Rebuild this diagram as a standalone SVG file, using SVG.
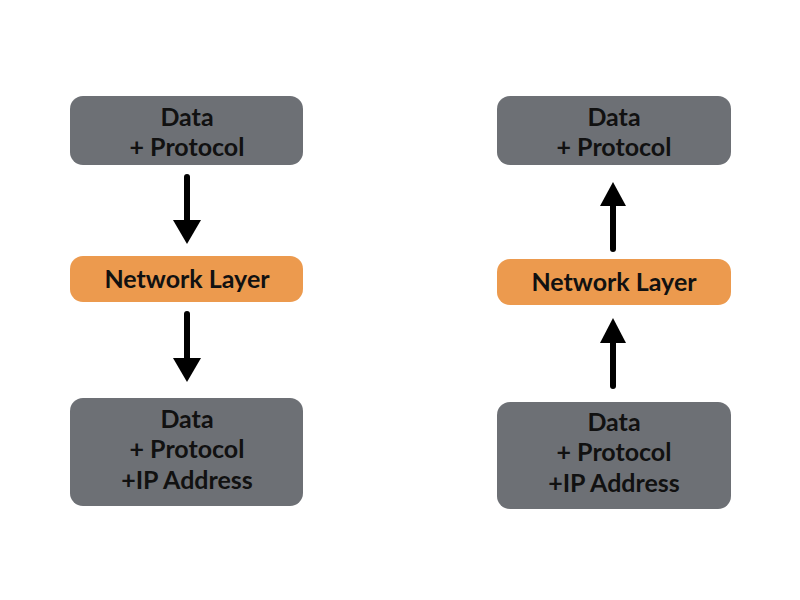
<svg xmlns="http://www.w3.org/2000/svg" width="800" height="600" viewBox="0 0 800 600">
<style>
.g{fill:#6d7075}
.o{fill:#ec9a4e}
.t{font-family:Lato,"Liberation Sans",sans-serif;font-weight:bold;font-size:25px;fill:#111;text-anchor:middle}
.c line{stroke:#000;stroke-width:6;stroke-linecap:round}
.c polygon{fill:#000}
</style>
<rect width="800" height="600" fill="#fff"/>
<g id="left-top"><rect class="g" x="70" y="96" width="233" height="69" rx="13"/><text class="t" x="187" y="126">Data</text><text class="t" x="187" y="156">+ Protocol</text></g>
<g id="left-network"><rect class="o" x="70" y="256" width="233" height="46" rx="13"/><text class="t" x="187" y="288">Network Layer</text></g>
<g id="left-bottom"><rect class="g" x="70" y="398" width="233" height="108" rx="13"/><text class="t" x="187" y="428">Data</text><text class="t" x="187" y="458">+ Protocol</text><text class="t" x="187" y="489">+IP Address</text></g>
<g id="right-top"><rect class="g" x="497" y="96" width="234" height="69" rx="13"/><text class="t" x="614" y="126">Data</text><text class="t" x="614" y="156">+ Protocol</text></g>
<g id="right-network"><rect class="o" x="497" y="259" width="234" height="46" rx="13"/><text class="t" x="614" y="291">Network Layer</text></g>
<g id="right-bottom"><rect class="g" x="497" y="402" width="234" height="107" rx="13"/><text class="t" x="614" y="431">Data</text><text class="t" x="614" y="461">+ Protocol</text><text class="t" x="614" y="492">+IP Address</text></g>
<g id="connectors" class="c">
<line x1="187" y1="177" x2="187" y2="222"/><polygon points="173,220 201,220 187,244"/>
<line x1="187" y1="314" x2="187" y2="360"/><polygon points="173,358 201,358 187,382"/>
<line x1="613" y1="249" x2="613" y2="203"/><polygon points="600,206 626,206 613,182"/>
<line x1="613" y1="386" x2="613" y2="340"/><polygon points="600,343 626,343 613,318"/>
</g>
</svg>
